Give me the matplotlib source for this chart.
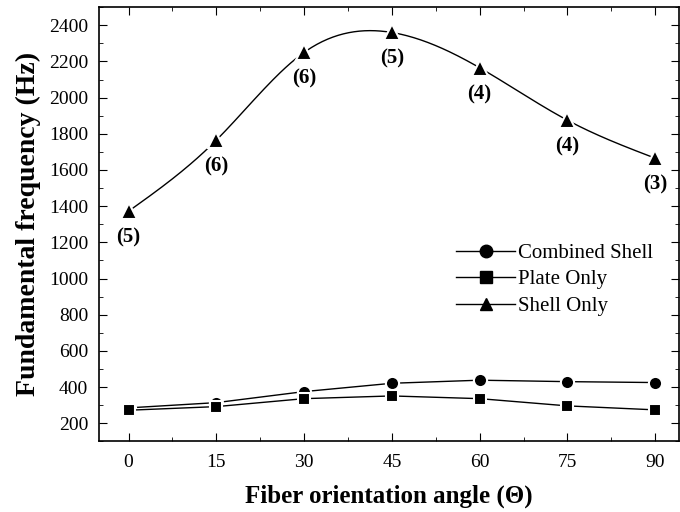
import numpy as np
import matplotlib
matplotlib.use('Agg')
import matplotlib.pyplot as plt
from matplotlib.ticker import MultipleLocator

plt.rcParams['font.family'] = ['Liberation Serif', 'DejaVu Serif']

angle = [0, 15, 30, 45, 60, 75, 90]
combined = [285, 314, 375, 421, 438, 430, 425]
plate = [272, 292, 336, 351, 336, 296, 274]
shell = [1372, 1765, 2250, 2360, 2165, 1875, 1665]
modes = ['(5)', '(6)', '(6)', '(5)', '(4)', '(4)', '(3)']


def natural_spline(x, y, n=300):
    # plain natural cubic spline, no scipy needed
    x = np.asarray(x, float)
    y = np.asarray(y, float)
    k = len(x)
    h = np.diff(x)
    A = np.zeros((k, k))
    b = np.zeros(k)
    A[0, 0] = A[-1, -1] = 1
    for i in range(1, k - 1):
        A[i, i - 1] = h[i - 1]
        A[i, i] = 2 * (h[i - 1] + h[i])
        A[i, i + 1] = h[i]
        b[i] = 6 * ((y[i + 1] - y[i]) / h[i] - (y[i] - y[i - 1]) / h[i - 1])
    M = np.linalg.solve(A, b)
    xs = np.linspace(x[0], x[-1], n)
    idx = np.clip(np.searchsorted(x, xs) - 1, 0, k - 2)
    x0, x1 = x[idx], x[idx + 1]
    hh = x1 - x0
    t0, t1 = x1 - xs, xs - x0
    ys = (M[idx] * t0**3 + M[idx + 1] * t1**3) / (6 * hh) \
        + (y[idx] / hh - M[idx] * hh / 6) * t0 \
        + (y[idx + 1] / hh - M[idx + 1] * hh / 6) * t1
    return xs, ys


fig = plt.figure(figsize=(6.8, 5.12), dpi=100)
ax = fig.add_axes([0.146, 0.138, 0.852, 0.848])

ax.plot(angle, combined, '-', color='black', lw=1)
ax.plot(angle, combined, 'o', color='black', markersize=9.5,
        markeredgecolor='white', markeredgewidth=1.5)
ax.plot(angle, plate, '-', color='black', lw=1)
ax.plot(angle, plate, 's', color='black', markersize=9,
        markeredgecolor='white', markeredgewidth=1.5)
xs, ys = natural_spline(angle, shell)
ax.plot(xs, ys, '-', color='black', lw=1)
ax.plot(angle, shell, '^', color='black', markersize=11,
        markeredgecolor='white', markeredgewidth=1.5)

for a, s, m in zip(angle, shell, modes):
    ax.annotate(m, (a, s), xytext=(0, -19), textcoords='offset points',
                ha='center', va='center', fontsize=15, fontweight='bold')

# legend handles
ax.plot([], [], '-o', color='black', markersize=9, lw=1, label='Combined Shell')
ax.plot([], [], '-s', color='black', markersize=8, lw=1, label='Plate Only')
ax.plot([], [], '-^', color='black', markersize=9, lw=1, label='Shell Only')
h, l = ax.get_legend_handles_labels()
ax.legend(h[-3:], l[-3:], loc='upper left', bbox_to_anchor=(0.602, 0.475),
          frameon=False, fontsize=15, handlelength=2.8, handletextpad=0.15,
          labelspacing=0.33, borderaxespad=0)

ax.set_xlim(-5, 94)
ax.set_ylim(100, 2500)
ax.xaxis.set_major_locator(MultipleLocator(15))
ax.xaxis.set_minor_locator(MultipleLocator(7.5))
ax.yaxis.set_minor_locator(MultipleLocator(100))
ax.set_yticks(range(200, 2401, 200))
ax.tick_params(which='both', direction='in', top=True, right=True, labelsize=14)
ax.tick_params(which='major', length=6)
ax.tick_params(which='minor', length=3)
ax.tick_params(axis='x', pad=9)
ax.tick_params(axis='y', pad=8)
for sp in ax.spines.values():
    sp.set_linewidth(1.2)

ax.set_xlabel('Fiber orientation angle (Θ)', fontsize=18, fontweight='bold', labelpad=10)
ax.set_ylabel('Fundamental frequency (Hz)', fontsize=20, fontweight='bold', labelpad=6)

fig.savefig('out.png', dpi=100)
